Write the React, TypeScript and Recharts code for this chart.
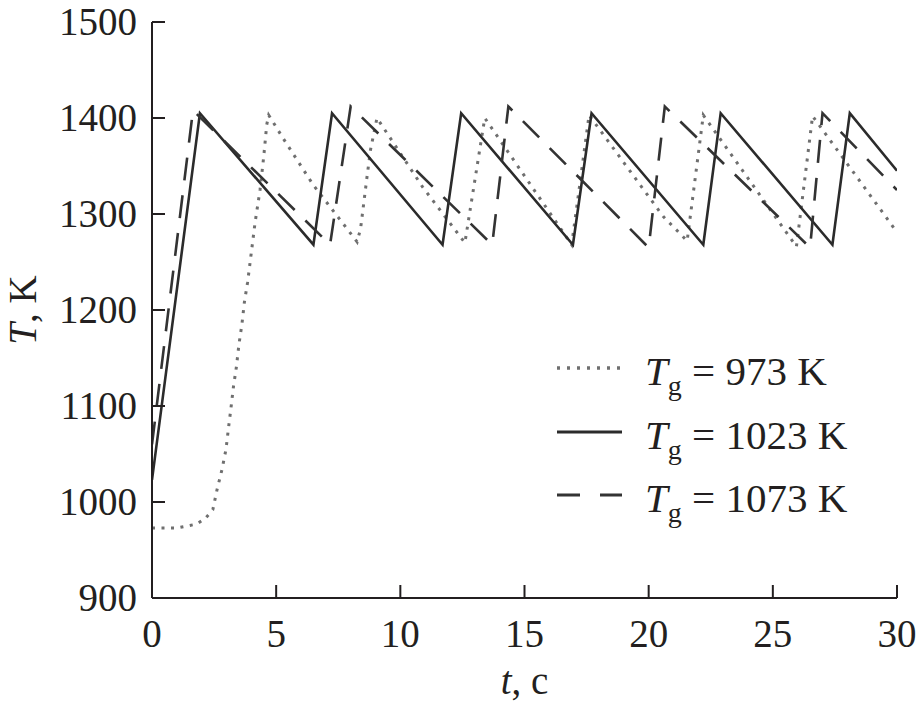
import React from 'react'
import { LineChart, Line, XAxis, YAxis, Label } from 'recharts'

const FONT = '"Liberation Serif", "Times New Roman", serif'
const INK = '#231f20'

const X_TICKS = [0, 5, 10, 15, 20, 25, 30]
const Y_TICKS = [900, 1000, 1100, 1200, 1300, 1400, 1500]

// T_g = 973 K (dotted)
const t973 = [0, 1.0, 1.8, 2.15, 2.45, 2.62, 2.82, 2.98, 3.08, 3.18, 3.28, 3.4, 3.5, 3.62, 3.72, 3.85, 4.15, 4.35, 4.5, 4.62, 4.7, 5.3, 6.5, 8.26, 8.4, 8.66, 8.8, 9.06, 10.9, 12.6, 13.4, 16.9, 17.6, 20.6, 21.55, 22.2, 25.95, 26.6, 30]
const T973 = [973, 973, 977, 983, 992, 1013, 1034, 1055, 1077, 1098, 1120, 1141, 1164, 1185, 1208, 1229, 1291, 1325, 1360, 1393, 1403, 1378, 1330, 1271, 1285, 1339, 1367, 1400, 1328, 1270, 1400, 1268, 1403, 1297, 1272, 1403, 1266, 1402, 1281]

// T_g = 1023 K (solid)
const t1023 = [0, 1.93, 6.5, 7.25, 11.7, 12.45, 16.95, 17.7, 22.2, 22.9, 27.4, 28.1, 30]
const T1023 = [1023, 1405, 1268, 1405, 1268, 1405, 1268, 1405, 1268, 1405, 1268, 1405, 1345]

// T_g = 1073 K (dashed)
const t1073 = [0, 1.65, 7.17, 8.0, 13.7, 14.35, 20.0, 20.65, 26.5, 27.0, 30]
const T1073 = [1060, 1408, 1268, 1412, 1268, 1412, 1265, 1412, 1265, 1405, 1325]

const zip = (ts: number[], vs: number[]) => ts.map((t, i) => ({ t, T: vs[i] }))

const series = [
  { key: 's973', label: '973', data: zip(t973, T973), color: '#6f6f6f', width: 3, dash: '3 6.5', legendDash: '3 7' },
  { key: 's1023', label: '1023', data: zip(t1023, T1023), color: '#2b2b2b', width: 2.6, dash: undefined, legendDash: undefined },
  { key: 's1073', label: '1073', data: zip(t1073, T1073), color: '#333333', width: 2.6, dash: '23 15', legendDash: '23 20' },
]

function XTick({ x, y, payload }: any) {
  return (
    <g>
      <line x1={x} y1={y} x2={x} y2={y - 13} stroke={INK} strokeWidth={2} />
      <text x={x} y={y + 49} textAnchor="middle" fontFamily={FONT} fontSize={39} fill={INK}>
        {payload.value}
      </text>
    </g>
  )
}

function YTick({ x, y, payload }: any) {
  return (
    <g>
      <line x1={x} y1={y} x2={x + 13} y2={y} stroke={INK} strokeWidth={2} />
      <text x={x - 15} y={y + 13} textAnchor="end" fontFamily={FONT} fontSize={39} fill={INK}>
        {payload.value}
      </text>
    </g>
  )
}

function LegendBox() {
  const rows = [28, 92, 155]
  return (
    <svg width={340} height={195} style={{ position: 'absolute', left: 545, top: 340, overflow: 'visible' }}>
      {series.map((s, i) => (
        <g key={s.key}>
          <line
            x1={12}
            x2={77}
            y1={rows[i]}
            y2={rows[i]}
            stroke={s.color}
            strokeWidth={s.width + 0.4}
            strokeDasharray={s.legendDash}
          />
          <text x={100} y={rows[i] + 17} fontFamily={FONT} fontSize={41} fill={INK}>
            <tspan fontStyle="italic">T</tspan>
            <tspan fontSize={28} dy={10}>g</tspan>
            <tspan dy={-10}>{` = ${s.label} K`}</tspan>
          </text>
        </g>
      ))}
    </svg>
  )
}

export default function App() {
  return (
    <div style={{ position: 'absolute', left: 0, top: 0, width: 917, height: 708, background: '#fff' }}>
      <LineChart width={917} height={708} margin={{ top: 22, right: 20, left: 52, bottom: 50 }}>
        <XAxis
          type="number"
          dataKey="t"
          domain={[0, 30]}
          ticks={X_TICKS}
          interval={0}
          height={60}
          tickSize={0}
          tickMargin={0}
          tick={<XTick />}
          tickLine={false}
          axisLine={{ stroke: INK, strokeWidth: 2 }}
          allowDataOverflow
        >
          <Label
            content={({ viewBox }: any) => (
              <text
                x={viewBox.x + viewBox.width / 2}
                y={694}
                textAnchor="middle"
                fontFamily={FONT}
                fontSize={39}
                fill={INK}
              >
                <tspan fontStyle="italic">t</tspan>
                <tspan>, c</tspan>
              </text>
            )}
          />
        </XAxis>
        <YAxis
          type="number"
          dataKey="T"
          domain={[900, 1500]}
          ticks={Y_TICKS}
          interval={0}
          width={100}
          tickSize={0}
          tickMargin={0}
          tick={<YTick />}
          tickLine={false}
          axisLine={{ stroke: INK, strokeWidth: 2 }}
          allowDataOverflow
        >
          <Label
            content={({ viewBox }: any) => {
              const cy = viewBox.y + viewBox.height / 2
              return (
                <text
                  x={36}
                  y={cy}
                  transform={`rotate(-90, 36, ${cy})`}
                  textAnchor="middle"
                  fontFamily={FONT}
                  fontSize={39}
                  fill={INK}
                >
                  <tspan fontStyle="italic">T</tspan>
                  <tspan>, K</tspan>
                </text>
              )
            }}
          />
        </YAxis>
        {series.map((s) => (
          <Line
            key={s.key}
            data={s.data}
            dataKey="T"
            name={s.label}
            type="linear"
            stroke={s.color}
            strokeWidth={s.width}
            strokeDasharray={s.dash}
            dot={false}
            activeDot={false}
            isAnimationActive={false}
          />
        ))}
      </LineChart>
      <LegendBox />
    </div>
  )
}
